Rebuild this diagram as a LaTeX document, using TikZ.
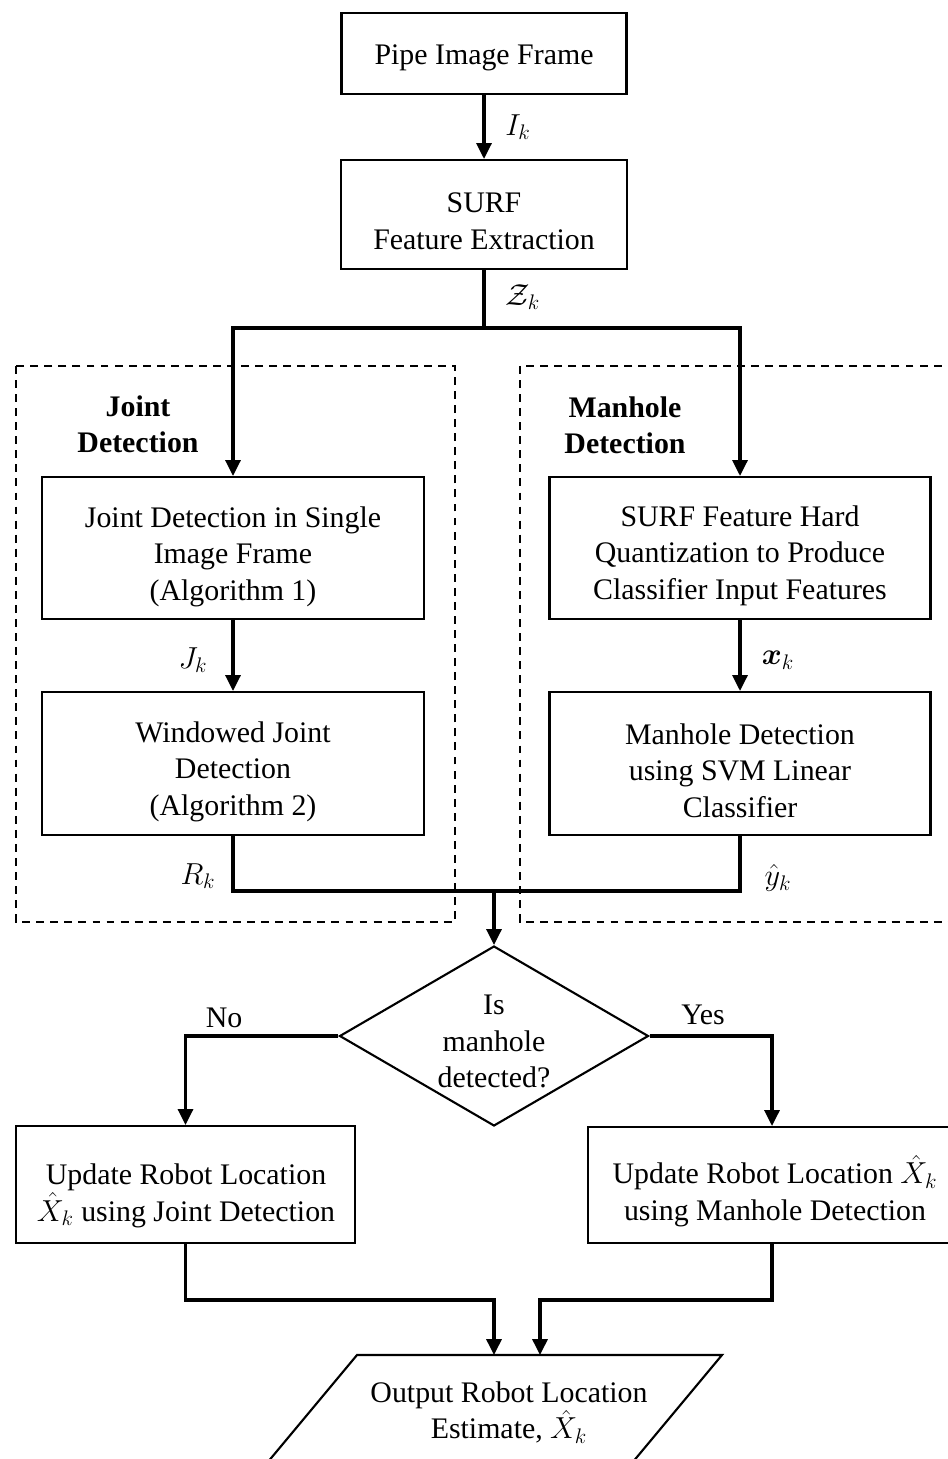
\documentclass[tikz,border=0pt]{standalone}
\usepackage{fontspec}
\setmainfont{Liberation Serif}
\usepackage{amsmath,amssymb,bm}
\usetikzlibrary{shapes.geometric,arrows.meta}
\begin{document}
\begin{tikzpicture}[x=0.02cm,y=-0.02cm,
  txt/.style={font=\fontsize{17}{20.8}\selectfont, align=center, inner sep=0pt},
  box/.style={draw, line width=1.2pt, rectangle, inner sep=0pt},
  dec/.style={draw, line width=1.2pt, diamond, inner sep=0pt, minimum width=6.18cm, minimum height=3.6cm},
  conn/.style={line width=1.8pt},
  arr/.style={conn, -{Triangle[length=9pt,width=8.5pt]}},
  grp/.style={draw, line width=1.1pt, dash pattern=on 4.5pt off 3.5pt},
  lbl/.style={font=\fontsize{17}{20.5}\selectfont},
  ttl/.style={font=\fontsize{17}{20.5}\selectfont\bfseries, align=center}]
\useasboundingbox (0,0) rectangle (947,1459);
% groups
\draw[grp] (16,366) rectangle (455,922);
\draw[grp] (520,366) rectangle (990,922);
\node[ttl] (tj) at (138,424) {Joint\\Detection};
\node[ttl] (tm) at (625,425) {Manhole\\Detection};
% boxes
\node[box, minimum width=5.7cm, minimum height=1.62cm] (pipe) at (484,53.5) {};
\node[box, minimum width=5.72cm, minimum height=2.18cm] (surf) at (484,214.5) {};
\node[box, minimum width=7.64cm, minimum height=2.84cm] (jd1) at (233,548) {};
\node[box, minimum width=7.64cm, minimum height=2.86cm] (wjd) at (233,763.5) {};
\node[box, minimum width=7.62cm, minimum height=2.84cm] (shq) at (740,548) {};
\node[box, minimum width=7.62cm, minimum height=2.86cm] (svm) at (740,763.5) {};
\node[dec] (dec) at (494,1036) {};
\node[box, minimum width=6.78cm, minimum height=2.34cm] (ljd) at (185.5,1184.5) {};
\node[box, minimum width=7.36cm, minimum height=2.32cm] (rmd) at (772,1185) {};
% texts
\node[txt] (pipet) at (484,57.5) {Pipe Image Frame};
\node[txt] (surft) at (484,221.5) {SURF\\Feature Extraction};
\node[txt] (jd1t) at (233,556.5) {Joint Detection in Single\\Image Frame\\(Algorithm 1)};
\node[txt] (wjdt) at (233,771.5) {Windowed Joint\\Detection\\(Algorithm 2)};
\node[txt] (shqt) at (740,555.5) {SURF Feature Hard\\Quantization to Produce\\Classifier Input Features};
\node[txt] (svmt) at (740,770.5) {Manhole Detection\\using SVM Linear\\Classifier};
\node[txt] (dect) at (494,1041.5) {Is\\manhole\\detected?};
\node[txt] (ljdt) at (186,1196) {Update Robot Location\\\smash{$\hat{X}_k$} using Joint Detection};
\node[txt] (rmdt) at (775,1195) {Update Robot Location \smash{$\hat{X}_k$}\\using Manhole Detection};
% output parallelogram
\draw[line width=1.2pt] (357,1355) -- (722,1355) -- (632,1463) -- (267,1463) -- cycle;
\node[txt] (out) at (509,1412.5) {Output Robot Location\\Estimate, \smash{$\hat{X}_k$}};
% coordinates
\coordinate (split) at (484,328);
\coordinate (merge) at (494,891);
\coordinate (m1) at (494,1300);
\coordinate (m2) at (540,1300);
\coordinate (in1) at (494,1355);
\coordinate (in2) at (540,1355);
% connectors
\draw[arr] (pipe) -- (surf);
\draw[conn] (surf.south) -- (split);
\draw[arr] (split) -| (jd1.north);
\draw[arr] (split) -| (shq.north);
\draw[arr] (jd1) -- (wjd);
\draw[arr] (shq) -- (svm);
\draw[conn] (wjd.south) |- (merge);
\draw[conn] (svm.south) |- (merge);
\draw[arr] (merge) -- (dec.north);
\draw[arr] (dec.west) -| (ljd.north);
\draw[arr] (dec.east) -| (rmd.north);
\draw[arr] (ljd.south) |- (m1) -- (in1);
\draw[arr] (rmd.south) |- (m2) -- (in2);
% labels
\node[lbl] (lI) at (518,127) {$I_k$};
\node[lbl] (lZ) at (523,297) {$\mathcal{Z}_k$};
\node[lbl] (lJ) at (193,660) {$J_k$};
\node[lbl] (lx) at (778,660) {$\bm{x}_k$};
\node[lbl] (lR) at (198,876) {$R_k$};
\node[lbl] (ly) at (778,878) {$\hat{y}_k$};
\node[lbl] (lno) at (224,1018) {No};
\node[lbl] (lyes) at (703,1015) {Yes};
\end{tikzpicture}
\end{document}
